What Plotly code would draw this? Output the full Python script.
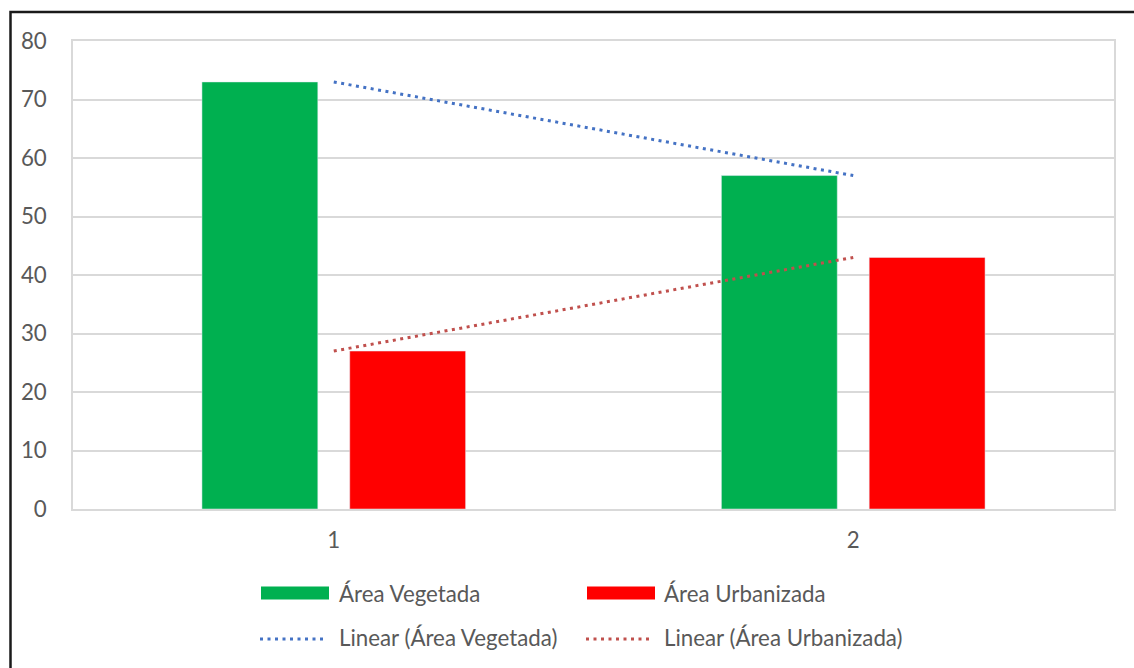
import numpy as np
import plotly.graph_objects as go

# Data
categories = [1, 2]
vegetada = [73, 57]
urbanizada = [27, 43]
y_ticks = [0, 10, 20, 30, 40, 50, 60, 70, 80]

GREEN = "#00B050"
RED = "#FF0000"
TREND_BLUE = "#4472C4"
TREND_RED = "#C0504D"
TEXT = "#595959"
GRID = "#D9D9D9"
FONT = "Lato"
FONT_SIZE = 22.3

# Figure geometry (pixels)
W, H = 1134, 668
ML, MR, MT, MB = 73, 20, 41, 159
PW, PH = W - ML - MR, H - MT - MB


def px_x(p):
    return (p - ML) / PW


def px_y(p):
    return (H - MB - p) / PH


def linear_trend(x, y):
    k, b = np.polyfit(x, y, 1)
    return [k * xi + b for xi in x]


fig = go.Figure()
fig.add_trace(go.Bar(x=categories, y=vegetada, name="Área Vegetada",
                     marker_color=GREEN, showlegend=False))
fig.add_trace(go.Bar(x=categories, y=urbanizada, name="Área Urbanizada",
                     marker_color=RED, showlegend=False))
fig.add_trace(go.Scatter(x=categories, y=linear_trend(categories, vegetada),
                         mode="lines", name="Linear (Área Vegetada)",
                         line=dict(color=TREND_BLUE, width=3, dash="3px,4.5px"),
                         showlegend=False))
fig.add_trace(go.Scatter(x=categories, y=linear_trend(categories, urbanizada),
                         mode="lines", name="Linear (Área Urbanizada)",
                         line=dict(color=TREND_RED, width=3, dash="3px,4.5px"),
                         showlegend=False))

shapes = []
annotations = []

# Outer chart border
shapes.append(dict(type="rect", xref="paper", yref="paper",
                   x0=px_x(10.5), x1=px_x(1140), y0=px_y(674), y1=px_y(12),
                   line=dict(color="#1a1a1a", width=2.5), fillcolor="rgba(0,0,0,0)",
                   layer="above"))

# Legend: swatches, dotted samples and labels
legend_rows = [
    (593, [("swatch", GREEN, 261, 329, "Área Vegetada", 337),
           ("swatch", RED, 587, 655, "Área Urbanizada", 662)]),
    (637, [("line", TREND_BLUE, 260, 323, "Linear (Área Vegetada)", 337),
           ("line", TREND_RED, 586, 649, "Linear (Área Urbanizada)", 662)]),
]
for ry, items in legend_rows:
    for kind, color, x0, x1, label, tx in items:
        if kind == "swatch":
            shapes.append(dict(type="rect", xref="paper", yref="paper",
                               x0=px_x(x0), x1=px_x(x1),
                               y0=px_y(ry - 6.5), y1=px_y(ry + 6.5),
                               fillcolor=color, line=dict(width=0)))
        else:
            shapes.append(dict(type="line", xref="paper", yref="paper",
                               x0=px_x(x0), x1=px_x(x1),
                               y0=px_y(ry + 2), y1=px_y(ry + 2),
                               line=dict(color=color, width=3, dash="3px,4.5px")))
        annotations.append(dict(text=label, xref="paper", yref="paper",
                                x=px_x(tx), y=px_y(ry), xanchor="left",
                                yanchor="middle", showarrow=False,
                                font=dict(family=FONT, size=FONT_SIZE, color=TEXT)))

fig.update_layout(
    width=W, height=H,
    margin=dict(l=ML, r=MR, t=MT, b=MB),
    paper_bgcolor="white", plot_bgcolor="white",
    barmode="group", bargap=0.431, bargroupgap=0.216,
    font=dict(family=FONT, size=FONT_SIZE, color=TEXT),
    shapes=shapes, annotations=annotations,
    xaxis=dict(range=[0.498, 2.502], tickvals=categories,
               ticktext=[str(c) for c in categories],
               showgrid=False, zeroline=False,
               showline=True, linecolor=GRID, linewidth=1.5, mirror=True,
               ticks="", ticklabelstandoff=10, fixedrange=True),
    yaxis=dict(range=[0, 80], tickvals=y_ticks,
               showgrid=True, gridcolor=GRID, gridwidth=1.5,
               zeroline=False, showline=True, linecolor=GRID, linewidth=1.5,
               mirror=True, ticks="", ticklabelstandoff=20, fixedrange=True),
)

fig.write_html("out.html")
